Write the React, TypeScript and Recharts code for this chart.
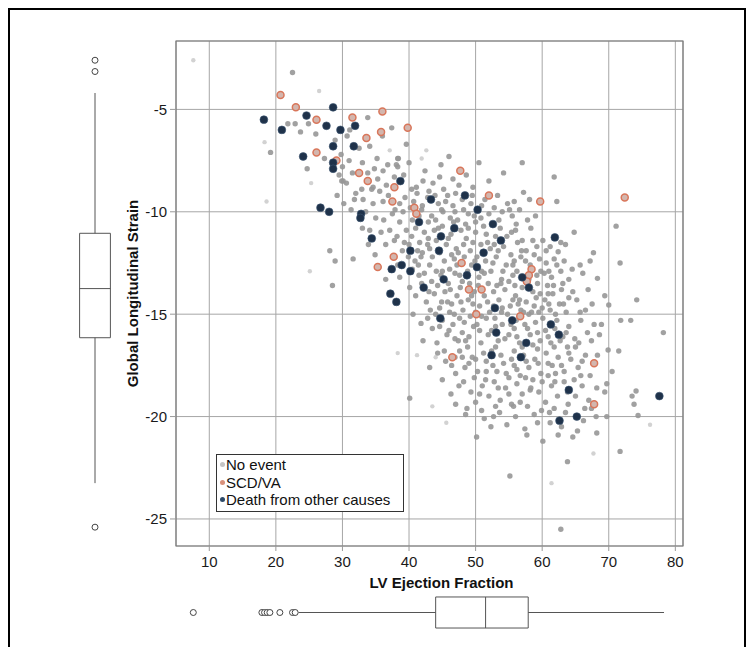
import {
  ScatterChart,
  Scatter,
  XAxis,
  YAxis,
  CartesianGrid,
  ReferenceArea,
  ReferenceLine,
  Legend,
} from "recharts";

// [LV ejection fraction, global longitudinal strain]
const noEventPts: [number, number][] = [
  [22.5, -3.2], [22.9, -5.7], [23.7, -6.1], [21.8, -5.7], [24.9, -5.7], [19.2, -7.1],
  [31.1, -6.0], [33.8, -5.4], [34.1, -6.8], [37.4, -5.9], [30.7, -6.3], [26.0, -6.2],
  [28.9, -6.5], [32.5, -6.9], [35.2, -7.4], [38.3, -7.4], [38.1, -7.7], [39.6, -6.7],
  [29.8, -7.2], [27.3, -7.4], [36.0, -6.3],
  [24.7, -7.9], [29.5, -8.2], [29.9, -8.5], [30.6, -8.6], [31.5, -8.1], [32.0, -9.1],
  [32.9, -8.9], [34.4, -8.9], [35.3, -8.4], [36.1, -8.0], [34.6, -8.8], [38.4, -7.4],
  [38.3, -7.8], [40.4, -8.9], [41.1, -8.8], [42.1, -8.5], [42.4, -8.0], [43.6, -8.6],
  [44.6, -8.3], [45.2, -8.9], [46.6, -8.4], [47.5, -8.7], [48.6, -8.2], [49.6, -8.8],
  [43.0, -9.0], [44.8, -7.7], [46.0, -7.3], [50.5, -7.6], [54.2, -8.1], [57.0, -7.6],
  [61.8, -8.3], [52.0, -8.5], [40.0, -7.6], [39.2, -8.2], [37.8, -8.3], [36.6, -8.7],
  [33.8, -8.1],
  [33.1, -9.4], [34.6, -9.6], [36.1, -9.5], [38.6, -9.6], [39.4, -9.3], [41.9, -9.9],
  [42.8, -9.3], [43.4, -10.2], [44.4, -9.6], [45.1, -10.0], [45.8, -9.2], [46.6, -9.7],
  [47.3, -10.4], [48.0, -9.4], [48.9, -10.1], [49.3, -9.6], [50.8, -10.3], [51.4, -9.4],
  [52.8, -9.8], [53.5, -10.4], [54.8, -9.6], [56.6, -9.9], [57.2, -9.05], [58.1, -9.4],
  [59.0, -10.2], [62.2, -9.5], [37.5, -10.1], [36.2, -10.4], [40.5, -10.4], [41.2, -9.1],
  [44.0, -10.4], [46.2, -10.3], [50.0, -10.5], [55.5, -10.2], [57.8, -10.4], [31.8, -9.4],
  [29.2, -9.2], [30.1, -8.5], [35.0, -10.3],
  [38.6, -10.5], [39.6, -10.9], [37.1, -10.9], [34.1, -10.9], [33.9, -11.6], [33.0, -10.8],
  [40.4, -11.2], [41.0, -10.8], [41.6, -11.5], [42.3, -11.0], [43.1, -11.8], [43.8, -10.9],
  [44.1, -11.4], [45.6, -11.6], [46.3, -11.1], [47.1, -11.8], [47.8, -10.9], [48.6, -11.3],
  [49.2, -11.9], [50.0, -11.0], [50.8, -11.6], [51.6, -11.1], [52.2, -11.8], [53.0, -11.2],
  [54.2, -11.7], [55.4, -11.0], [56.3, -11.5], [57.0, -11.4], [58.3, -10.8], [59.2, -11.7],
  [60.1, -11.4], [61.2, -11.7], [62.4, -11.95], [63.5, -11.6], [64.8, -11.0], [71.1, -10.7],
  [42.8, -11.6], [45.0, -10.7], [48.2, -11.6], [51.2, -10.7], [53.7, -10.8], [56.0, -10.9],
  [36.5, -11.6], [39.0, -11.9],
  [28.1, -11.9], [28.9, -12.4], [31.6, -12.3], [39.9, -12.2], [40.9, -12.4], [41.8, -12.2],
  [43.1, -12.6], [44.1, -12.9], [45.3, -12.4], [46.1, -12.8], [46.8, -12.3], [47.6, -13.1],
  [48.3, -12.2], [49.4, -12.6], [50.5, -13.2], [51.5, -12.4], [52.3, -12.9], [53.1, -12.2],
  [53.9, -13.3], [54.6, -12.6], [55.3, -12.1], [56.2, -12.9], [57.5, -12.4], [58.8, -12.1],
  [59.8, -12.9], [60.6, -12.5], [61.4, -13.2], [62.8, -12.9], [63.3, -12.4], [65.7, -12.6],
  [67.2, -12.4], [67.7, -12.0], [68.3, -13.25], [71.7, -12.5], [38.6, -13.2], [40.1, -13.7],
  [41.5, -13.1], [43.4, -13.4], [45.9, -13.5], [48.0, -13.4], [51.9, -13.5], [55.0, -13.4],
  [58.0, -13.3], [59.3, -13.5], [60.3, -13.0], [64.0, -13.3], [66.1, -13.0],
  [28.5, -13.6], [41.0, -14.1], [42.6, -14.4], [43.8, -14.0], [44.6, -14.7], [45.4, -13.9],
  [46.4, -14.5], [47.2, -14.1], [48.1, -14.8], [48.9, -14.3], [49.8, -13.9], [50.6, -14.6],
  [51.3, -14.1], [52.1, -14.9], [53.5, -14.3], [54.4, -13.8], [55.2, -14.6], [56.0, -14.1],
  [56.8, -14.8], [57.6, -14.4], [58.4, -14.9], [59.1, -14.2], [60.0, -14.7], [60.9, -14.0],
  [61.6, -14.0], [62.6, -14.5], [63.6, -14.9], [65.2, -14.3], [66.5, -14.8], [69.4, -14.1],
  [70.0, -14.55], [74.2, -14.3], [44.0, -15.0], [46.8, -15.0], [50.0, -14.9], [54.8, -15.0],
  [58.0, -15.0], [61.2, -14.8], [64.0, -14.2],
  [40.6, -15.0], [41.8, -15.45], [42.1, -16.3], [43.5, -15.7], [45.0, -15.3], [45.7, -16.0],
  [46.6, -15.5], [47.4, -16.3], [48.3, -15.4], [49.0, -16.1], [49.7, -15.6], [50.8, -16.4],
  [51.6, -15.2], [52.4, -15.8], [53.4, -16.3], [54.0, -15.5], [55.0, -16.0], [55.8, -15.7],
  [56.6, -16.4], [57.4, -15.5], [58.2, -16.0], [59.0, -15.4], [59.7, -16.3], [60.5, -15.8],
  [61.3, -16.4], [62.2, -15.3], [63.1, -16.1], [64.0, -15.6], [64.9, -16.2], [65.8, -15.3],
  [66.8, -15.9], [67.8, -15.5], [68.9, -15.5], [71.8, -15.3], [73.3, -15.3], [78.2, -15.9],
  [44.2, -16.4], [48.8, -16.6], [53.0, -16.6], [57.0, -16.6], [61.8, -16.6], [65.0, -16.6],
  [43.1, -17.6], [44.3, -16.9], [45.5, -17.3], [46.4, -17.5], [47.6, -16.8], [48.4, -17.6],
  [49.5, -17.1], [50.3, -17.8], [51.2, -16.9], [52.6, -17.5], [53.8, -17.0], [54.6, -17.9],
  [55.4, -17.2], [56.2, -17.7], [57.2, -17.0], [58.0, -17.6], [58.9, -17.2], [59.8, -17.9],
  [60.6, -16.9], [61.5, -17.5], [62.4, -17.1], [63.3, -17.8], [64.3, -17.2], [65.4, -17.6],
  [66.5, -17.0], [67.2, -18.0], [69.9, -16.75], [70.5, -17.8], [71.5, -16.8],
  [40.1, -19.1], [45.0, -18.2], [46.3, -18.9], [47.0, -19.4], [48.2, -18.3], [49.3, -18.8],
  [50.0, -19.3], [51.0, -18.5], [52.0, -19.0], [52.8, -18.3], [53.7, -19.2], [54.5, -18.6],
  [55.4, -19.4], [56.2, -18.4], [57.0, -18.9], [57.8, -19.5], [58.6, -18.2], [59.5, -18.8],
  [60.5, -19.3], [61.4, -18.5], [62.3, -19.0], [63.3, -18.3], [65.0, -19.0], [66.0, -18.5],
  [67.0, -19.2], [69.4, -18.8], [69.7, -18.4], [73.5, -19.0], [73.8, -19.4], [74.1, -18.75],
  [48.5, -19.9], [50.15, -21.0], [51.3, -20.1], [52.3, -20.5], [53.6, -19.8], [54.7, -20.4],
  [56.0, -20.0], [57.4, -20.6], [57.7, -20.9], [58.8, -19.9], [60.1, -21.2], [61.2, -20.3],
  [62.4, -20.9], [63.5, -19.8], [64.6, -21.0], [66.2, -20.2], [68.1, -20.0], [68.2, -20.8],
  [69.7, -20.0], [74.4, -19.95], [71.7, -21.7],
  [63.8, -22.2], [55.15, -22.9], [62.8, -25.5],
  [40.2, -9.8], [41.5, -10.2], [42.9, -10.5], [44.9, -9.9], [46.9, -10.0], [48.5, -10.6],
  [49.8, -10.2], [52.0, -10.1], [54.0, -10.0], [55.8, -9.5],
  [40.0, -11.6], [42.0, -12.0], [44.6, -12.0], [47.4, -12.0], [49.9, -12.4], [52.8, -11.6],
  [55.8, -12.4], [57.6, -11.9], [59.6, -12.3], [61.8, -12.3],
  [42.3, -13.0], [44.8, -13.1], [46.9, -13.0], [49.1, -13.5], [50.9, -12.9], [53.2, -13.6],
  [55.6, -13.1], [57.0, -13.7], [60.8, -13.6], [62.9, -13.8],
  [43.2, -14.8], [45.8, -14.4], [47.8, -14.4], [49.6, -14.5], [51.8, -14.4], [54.0, -14.7],
  [56.4, -14.5], [58.8, -14.6], [60.4, -14.3], [62.0, -15.0],
  [46.0, -15.8], [48.0, -15.9], [50.2, -15.5], [52.9, -15.2], [54.4, -16.2], [56.1, -15.3],
  [58.6, -16.5], [60.1, -15.2], [62.7, -16.3], [63.8, -16.6],
  [47.0, -17.9], [49.0, -17.4], [51.6, -17.8], [53.2, -17.8], [55.8, -16.8], [57.5, -18.1],
  [59.3, -16.7], [60.9, -18.0], [62.0, -17.9], [64.8, -18.2],
  [48.7, -19.6], [50.6, -18.9], [53.0, -19.5], [55.0, -18.9], [56.7, -19.3], [58.2, -18.7],
  [59.9, -19.7], [61.8, -19.6], [63.9, -19.4], [66.4, -19.6],
  [39.1, -10.0], [40.7, -9.5], [42.0, -9.7], [43.9, -9.2], [45.5, -9.5], [47.0, -9.1],
  [48.2, -9.9], [49.5, -9.2], [50.9, -9.7], [53.3, -9.2], [55.1, -9.9], [56.1, -10.6],
  [38.2, -11.2], [39.3, -11.5], [41.3, -11.9], [42.9, -11.3], [44.4, -10.8], [45.9, -11.3],
  [46.7, -10.5], [48.9, -10.8], [49.6, -11.5], [51.8, -11.5], [53.4, -11.9], [54.7, -11.2],
  [56.9, -11.9], [58.6, -11.4], [60.6, -11.9], [62.8, -11.5],
  [40.5, -12.8], [41.4, -12.6], [43.5, -12.2], [45.0, -12.9], [46.4, -12.1], [47.2, -12.6],
  [48.8, -12.9], [50.2, -12.2], [51.3, -13.0], [52.6, -12.5], [54.1, -12.9], [55.6, -12.6],
  [56.8, -12.2], [58.2, -12.6], [59.2, -13.1], [61.0, -12.9], [62.2, -12.6], [64.5, -12.8],
  [41.9, -13.5], [43.0, -13.9], [44.3, -13.6], [46.2, -13.8], [47.7, -13.7], [49.4, -14.1],
  [50.4, -13.6], [52.7, -13.9], [53.8, -13.5], [55.9, -13.6], [56.6, -14.3], [58.6, -13.9],
  [59.7, -14.0], [61.7, -13.6], [63.1, -13.5], [64.6, -13.9], [66.9, -13.8],
  [42.8, -15.2], [44.9, -14.4], [46.1, -14.9], [47.6, -15.2], [49.2, -15.1], [50.9, -15.1],
  [52.7, -14.6], [53.9, -14.9], [55.6, -14.3], [57.2, -14.9], [59.5, -14.9], [61.0, -14.5],
  [63.2, -14.5], [65.7, -14.9], [67.5, -14.5],
  [44.6, -15.6], [46.9, -16.2], [48.5, -16.3], [50.6, -15.8], [51.9, -16.0], [53.0, -15.6],
  [55.3, -15.5], [56.2, -16.1], [57.8, -15.7], [59.3, -15.9], [60.9, -16.1], [61.9, -15.7],
  [63.6, -15.9], [65.5, -16.4], [67.4, -16.3], [68.6, -16.0],
  [45.3, -16.8], [46.9, -17.1], [48.0, -17.1], [50.0, -17.2], [51.6, -17.3], [52.4, -16.8],
  [54.2, -17.4], [55.8, -17.5], [57.6, -17.3], [59.4, -17.4], [60.9, -17.4], [62.9, -17.5],
  [64.0, -16.9], [66.0, -17.3], [68.3, -17.0],
  [47.5, -18.5], [49.8, -18.1], [51.5, -18.2], [53.4, -18.6], [55.0, -18.1], [56.7, -18.0],
  [58.3, -18.6], [60.0, -18.3], [61.9, -18.3], [63.8, -18.8], [65.8, -18.0], [68.2, -18.6],
  [50.9, -19.7], [52.7, -20.0], [55.7, -19.5], [59.3, -20.3], [61.1, -19.8], [62.9, -20.5],
  [65.3, -20.7], [67.4, -19.6],
  [30.2, -9.6], [31.3, -9.9], [33.5, -10.0], [35.6, -9.0], [36.9, -9.2], [37.9, -9.9],
  [35.8, -11.0], [37.8, -11.4], [34.9, -12.1], [38.3, -12.6], [36.5, -13.3], [30.0, -7.8],
  [31.0, -7.5], [33.0, -7.6], [34.8, -7.9], [36.8, -7.7],
];

// faint overplotted "no event" points
const noEventFaint: [number, number][] = [
  [7.6, -2.6], [26.5, -4.1], [18.3, -6.6], [18.6, -9.5], [25.3, -8.6], [42.6, -7.0],
  [41.9, -7.4], [37.1, -7.0], [38.3, -16.9], [43.5, -19.5], [45.6, -20.3], [61.4, -23.25],
  [67.7, -21.8], [76.2, -20.4], [25.1, -12.9], [41.2, -17.0], [44.0, -17.1],
];

const scdPts: [number, number][] = [
  [20.7, -4.3], [23.0, -4.9], [26.1, -5.5], [26.1, -7.1], [29.1, -7.5], [31.5, -5.4],
  [33.6, -6.4], [32.5, -8.1], [33.8, -8.5], [36.0, -5.1], [35.8, -6.1], [39.8, -5.9],
  [37.8, -8.8], [37.5, -9.5], [40.8, -9.8], [41.1, -10.1], [35.3, -12.7], [37.7, -12.2],
  [47.7, -8.0], [47.9, -12.5], [49.0, -13.8], [50.9, -13.8], [50.1, -15.0], [46.5, -17.1],
  [52.0, -9.2], [56.7, -15.1], [58.4, -12.8], [58.0, -13.1], [57.7, -13.4], [59.7, -9.5],
  [67.8, -17.4], [67.8, -19.4], [72.4, -9.3],
];

const deathPts: [number, number][] = [
  [18.2, -5.5], [20.9, -6.0], [24.6, -5.3], [24.1, -7.3], [28.6, -4.9], [27.6, -5.8],
  [29.7, -6.0], [31.9, -5.8], [28.6, -6.8], [31.7, -6.8], [28.6, -7.6], [28.6, -7.9],
  [26.7, -9.8], [28.0, -10.0], [32.8, -10.1], [32.7, -10.3], [34.4, -11.3], [38.7, -8.5],
  [37.4, -12.8], [37.2, -14.0], [38.1, -14.4], [38.9, -12.6], [40.2, -11.9], [40.2, -12.9],
  [41.5, -10.5], [42.2, -13.7], [43.3, -9.4], [44.5, -11.9], [44.8, -11.2], [45.2, -13.3],
  [44.7, -15.2], [46.8, -10.8], [48.4, -9.2], [48.7, -13.1], [50.2, -12.7], [50.3, -9.9],
  [51.2, -12.0], [52.6, -10.6], [52.9, -14.7], [53.1, -15.9], [53.8, -11.4], [52.4, -17.0],
  [55.5, -15.3], [57.0, -13.2], [57.6, -16.4], [58.0, -13.7], [56.8, -17.1], [61.3, -15.5],
  [61.9, -11.25], [62.5, -16.0], [64.0, -18.7], [62.6, -20.2], [65.2, -20.0], [77.6, -19.0],
];

const xTicks = [10, 20, 30, 40, 50, 60, 70, 80];
const yTicks = [-25, -20, -15, -10, -5];

// box plot stats: [lower whisker, Q1, median, Q3, upper whisker]
const efBox = [23.4, 44.0, 51.5, 57.9, 78.3];
const efOutliers = [7.6, 17.9, 18.3, 18.7, 19.1, 20.6, 22.5, 22.9];
const glsBox = [-23.25, -16.15, -13.75, -11.05, -4.2];
const glsOutliers = [-2.6, -3.15, -25.4];

const legendOrder = ["No event", "SCD/VA", "Death from other causes"];

const X_DOMAIN: [number, number] = [5, 81.15];
const Y_DOMAIN: [number, number] = [-26.32, -1.66];

const FONT = '"Liberation Sans", Arial, Helvetica, sans-serif';
const legendColors: Record<string, string> = {
  "No event": "#c4c4c4",
  "SCD/VA": "#d9907a",
  "Death from other causes": "#2d4a68",
};

const toXY = (pts: [number, number][]) => pts.map(([x, y]) => ({ x, y }));

const grayDot = (p: any) => (
  <circle cx={p.cx} cy={p.cy} r={2.7} fill="#979797" fillOpacity={0.9} />
);
const faintDot = (p: any) => (
  <circle cx={p.cx} cy={p.cy} r={2.2} fill="#d2d2d2" />
);
const scdDot = (p: any) => (
  <circle cx={p.cx} cy={p.cy} r={3.5} fill="#d3b6ae" stroke="#d9765a" strokeWidth={1.5} />
);
const deathDot = (p: any) => (
  <circle cx={p.cx} cy={p.cy} r={3.9} fill="#1f324a" stroke="#3a5470" strokeWidth={0.6} />
);
const hollowDot = (p: any) => (
  <circle cx={p.cx} cy={p.cy} r={3} fill="#fff" stroke="#444" strokeWidth={1} />
);

const renderLegend = (props: any) => {
  const names = (props.payload || []).map((e: any) => e.value);
  const entries = legendOrder.filter((n) => names.includes(n));
  return (
    <div
      style={{
        border: "1px solid #333",
        background: "#fff",
        padding: "1px 3px 2px 3px",
        boxSizing: "border-box",
        fontFamily: FONT,
        fontSize: 15,
        lineHeight: "17.5px",
        color: "#111",
        textAlign: "left",
      }}
    >
      {entries.map((name) => (
        <div key={name} style={{ display: "flex", alignItems: "center" }}>
          <span
            style={{
              display: "inline-block",
              width: 5,
              height: 5,
              borderRadius: "50%",
              background: legendColors[name],
              marginRight: 1,
            }}
          />
          {name}
        </div>
      ))}
    </div>
  );
};

const xTitle = (props: any) => {
  const vb = props.viewBox || { x: 176, y: 546, width: 507, height: 50 };
  return (
    <text
      x={vb.x + vb.width / 2 + 12}
      y={vb.y + 36}
      textAnchor="middle"
      dominantBaseline="central"
      fontFamily={FONT}
      fontSize={15}
      fontWeight="bold"
      fill="#111"
    >
      LV Ejection Fraction
    </text>
  );
};

const yTitle = (props: any) => {
  const vb = props.viewBox || { x: 0, y: 41, width: 176, height: 505 };
  const cx = vb.x + 132;
  const cy = vb.y + vb.height / 2;
  return (
    <text
      x={cx}
      y={cy}
      transform={`rotate(-90, ${cx}, ${cy})`}
      textAnchor="middle"
      dominantBaseline="central"
      fontFamily={FONT}
      fontSize={15}
      fontWeight="bold"
      fill="#111"
    >
      Global Longitudinal Strain
    </text>
  );
};

const boxStroke = "#555";

export default function App() {
  return (
    <div
      style={{
        position: "relative",
        width: 738,
        height: 639,
        border: "2px solid #000",
        borderBottom: "none",
        boxSizing: "border-box",
        fontFamily: FONT,
      }}
    >
      {/* main scatter */}
      <div style={{ position: "absolute", left: -10, top: -10 }}>
        <ScatterChart
          width={754}
          height={647}
          margin={{ top: 41, right: 71, bottom: 51, left: 0 }}
        >
          <CartesianGrid stroke="#a6a6a6" strokeWidth={1} />
          <XAxis
            type="number"
            dataKey="x"
            domain={X_DOMAIN}
            allowDataOverflow
            ticks={xTicks}
            interval={0}
            height={50}
            axisLine={false}
            tickSize={5}
            tickMargin={5}
            tickLine={{ stroke: "#999" }}
            tick={{ fill: "#1a1a1a", fontSize: 15, fontFamily: FONT }}
            label={xTitle}
          />
          <YAxis
            type="number"
            dataKey="y"
            domain={Y_DOMAIN}
            allowDataOverflow
            ticks={yTicks}
            interval={0}
            width={176}
            axisLine={false}
            tickSize={6}
            tickMargin={3}
            tickLine={{ stroke: "#999" }}
            tick={{ fill: "#1a1a1a", fontSize: 15, fontFamily: FONT }}
            label={yTitle}
          />
          <ReferenceArea
            x1={X_DOMAIN[0]}
            x2={X_DOMAIN[1]}
            y1={Y_DOMAIN[0]}
            y2={Y_DOMAIN[1]}
            fill="none"
            stroke="#7a7a7a"
            strokeWidth={1.2}
            ifOverflow="visible"
          />
          <Scatter
            name="faint"
            data={toXY(noEventFaint)}
            shape={faintDot}
            legendType="none"
            isAnimationActive={false}
          />
          <Scatter
            name="No event"
            data={toXY(noEventPts)}
            fill="#c4c4c4"
            shape={grayDot}
            isAnimationActive={false}
          />
          <Scatter
            name="SCD/VA"
            data={toXY(scdPts)}
            fill="#d9907a"
            shape={scdDot}
            isAnimationActive={false}
          />
          <Scatter
            name="Death from other causes"
            data={toXY(deathPts)}
            fill="#2d4a68"
            shape={deathDot}
            isAnimationActive={false}
          />
          <Legend
            layout="horizontal"
            verticalAlign="middle"
            align="center"
            width={188}
            wrapperStyle={{ left: 216, top: 454 }}
            content={renderLegend}
          />
        </ScatterChart>
      </div>

      {/* marginal box plot of GLS (left) */}
      <div style={{ position: "absolute", left: 50, top: -10 }}>
        <ScatterChart
          width={70}
          height={647}
          margin={{ top: 41, right: 0, bottom: 101, left: 0 }}
        >
          <XAxis type="number" dataKey="x" domain={[0, 2]} hide />
          <YAxis type="number" dataKey="y" domain={Y_DOMAIN} allowDataOverflow hide />
          <ReferenceLine
            segment={[{ x: 1, y: glsBox[0] }, { x: 1, y: glsBox[1] }]}
            stroke={boxStroke}
          />
          <ReferenceLine
            segment={[{ x: 1, y: glsBox[3] }, { x: 1, y: glsBox[4] }]}
            stroke={boxStroke}
          />
          <ReferenceArea
            x1={0.56}
            x2={1.44}
            y1={glsBox[1]}
            y2={glsBox[3]}
            fill="#fff"
            fillOpacity={1}
            stroke={boxStroke}
          />
          <ReferenceLine
            segment={[{ x: 0.56, y: glsBox[2] }, { x: 1.44, y: glsBox[2] }]}
            stroke={boxStroke}
          />
          <Scatter
            data={glsOutliers.map((y) => ({ x: 1, y }))}
            shape={hollowDot}
            isAnimationActive={false}
          />
        </ScatterChart>
      </div>

      {/* marginal box plot of EF (bottom) */}
      <div style={{ position: "absolute", left: -10, top: 580 }}>
        <ScatterChart
          width={754}
          height={45}
          margin={{ top: 0, right: 71, bottom: 0, left: 176 }}
        >
          <XAxis type="number" dataKey="x" domain={X_DOMAIN} allowDataOverflow hide />
          <YAxis type="number" dataKey="y" domain={[0, 2]} hide />
          <ReferenceLine
            segment={[{ x: efBox[0], y: 1 }, { x: efBox[1], y: 1 }]}
            stroke={boxStroke}
          />
          <ReferenceLine
            segment={[{ x: efBox[3], y: 1 }, { x: efBox[4], y: 1 }]}
            stroke={boxStroke}
          />
          <ReferenceArea
            x1={efBox[1]}
            x2={efBox[3]}
            y1={0.31}
            y2={1.69}
            fill="#fff"
            fillOpacity={1}
            stroke={boxStroke}
          />
          <ReferenceLine
            segment={[{ x: efBox[2], y: 0.31 }, { x: efBox[2], y: 1.69 }]}
            stroke={boxStroke}
          />
          <Scatter
            data={efOutliers.map((x) => ({ x, y: 1 }))}
            shape={hollowDot}
            isAnimationActive={false}
          />
        </ScatterChart>
      </div>
    </div>
  );
}
